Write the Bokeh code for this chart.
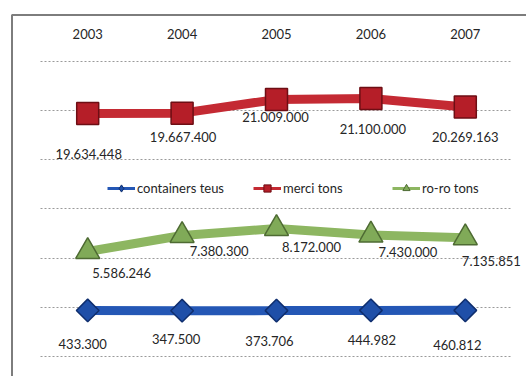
import math
from bokeh.plotting import figure
from bokeh.models import (Range1d, Grid, FixedTicker, Legend, LegendItem)
from bokeh.core.properties import value
from bokeh.embed import file_html
from bokeh.resources import INLINE

# ---- data ----
years = [2003, 2004, 2005, 2006, 2007]
year_labels = ["2003", "2004", "2005", "2006", "2007"]
containers_teus = [433300, 347500, 373706, 444982, 460812]
merci_tons = [19634448, 19667400, 21009000, 21100000, 20269163]
roro_tons = [5586246, 7380300, 8172000, 7430000, 7135851]


def fmt(v):
    return f"{v:,}".replace(",", ".")


# ---- layout constants (pixels) ----
W, H = 526, 376
FL, FT = 10, 13            # frame left / top
X0_PX, X_STEP = 87.2, 94.4  # first category centre, spacing
GRID0_PX, GRID_STEP = 356.0, 49.17


def y_range_for(anchor_value, anchor_px, px_per_unit):
    return Range1d(anchor_value - (H - anchor_px) / px_per_unit,
                   anchor_value + (anchor_px - FT) / px_per_unit)


def main_y(px):
    return (GRID0_PX - px) / GRID_STEP


def main_x(px):
    return years[0] + (px - X0_PX) / X_STEP


x_start = main_x(FL)
x_end = main_x(W)

FONT = value("Lato")
TXT = "#262626"

p = figure(width=W, height=H,
           x_range=Range1d(x_start, x_end),
           y_range=Range1d(main_y(H), main_y(FT)),
           x_axis_location=None, y_axis_location=None,
           output_backend="svg", toolbar_location=None,
           min_border_left=FL, min_border_right=0,
           min_border_top=FT, min_border_bottom=0)
p.outline_line_color = None
p.outline_line_alpha = 0
p.background_fill_color = "white"
p.border_fill_color = "white"
# drop the default grids (their axes are not placed)
p.center = [r for r in p.center if not isinstance(r, Grid)]

# outer border of the chart box: only the left and top edges fall inside the page
p.quad(left=main_x(11.5), right=main_x(W + 20), top=main_y(14.5), bottom=main_y(H + 20),
       fill_color=None, line_color="#7d7d7d", line_width=2)

# dotted horizontal gridlines spanning the category area only
p.add_layout(Grid(dimension=1, ticker=FixedTicker(ticks=[0, 1, 2, 3, 4, 5, 6]),
                  cross_bounds=(years[0] - 0.5, years[-1] + 0.5),
                  grid_line_color="#9a9a9a", grid_line_dash="2 2", grid_line_width=1))

# separate value scales per series
p.extra_y_ranges = {
    "merci": y_range_for(merci_tons[0], 113, 10.23e-6),
    "roro": y_range_for(roro_tons[0], 251, 8.9e-6),
    "cont": y_range_for(412000, 310, 3e-6),
}

RED, RED_M, RED_E = "#C42A33", "#B51E28", "#6E0E14"
GRN, GRN_M, GRN_E = "#8DB661", "#80AA58", "#4E6B33"
BLU, BLU_M, BLU_E = "#2457B5", "#1F4FA8", "#0F2E6E"

# year labels along the top
p.text(x=years, y=[main_y(33)] * len(years), text=year_labels,
       text_align="center", text_baseline="middle",
       text_font=FONT, text_font_size="13px", text_color=TXT)

# merci
p.line(years, merci_tons, y_range_name="merci", line_width=9, color=RED)
p.scatter(years, merci_tons, y_range_name="merci", marker="square", size=22,
          fill_color=RED_M, line_color=RED_E, line_width=1.5)
# ro-ro
p.line(years, roro_tons, y_range_name="roro", line_width=9, color=GRN)
p.scatter(years, roro_tons, y_range_name="roro", marker="triangle", size=24,
          fill_color=GRN_M, line_color=GRN_E, line_width=1.5)
# containers
p.line(years, containers_teus, y_range_name="cont", line_width=9, color=BLU)
p.scatter(years, containers_teus, y_range_name="cont", marker="square", angle=math.pi / 4,
          size=16, fill_color=BLU_M, line_color=BLU_E, line_width=1.5)

# data labels (offsets in screen pixels)
merci_dx = [1, 1, -1, 2, 0]
merci_dy = [40, 24, 18, 30, 30]
roro_dx = [34, 37, 35, 37, 26]
roro_dy = [21, 15, 19, 17, 23]
cont_dx = [-5, -6, -7, 1, -8]
cont_dy = [34, 28, 30, 30, 35]

for vals, rn, dx, dy in [(merci_tons, "merci", merci_dx, merci_dy),
                         (roro_tons, "roro", roro_dx, roro_dy),
                         (containers_teus, "cont", cont_dx, cont_dy)]:
    p.text(x=years, y=vals, text=[fmt(v) for v in vals], y_range_name=rn,
           x_offset=dx, y_offset=dy, text_align="center", text_baseline="middle",
           text_font=FONT, text_font_size="13px", text_color=TXT)

# legend swatches (renderers with no visible points)
nan = float("nan")
lc = p.line(x=[years[0]], y=[nan], color=BLU, line_width=3)
mc = p.scatter(x=[years[0]], y=[nan], marker="diamond", size=13,
               fill_color=BLU_M, line_color=BLU_E)
lm = p.line(x=[years[0]], y=[nan], color=RED, line_width=3)
mm = p.scatter(x=[years[0]], y=[nan], marker="square", size=11, fill_color=RED_M, line_color=RED_E)
lr = p.line(x=[years[0]], y=[nan], color=GRN, line_width=3)
mr = p.scatter(x=[years[0]], y=[nan], marker="triangle", size=12, fill_color=GRN_M, line_color=GRN_E)

for label, rends, xloc in [("containers teus", [lc, mc], 107 - FL),
                           ("merci tons", [lm, mm], 253 - FL),
                           ("ro-ro tons", [lr, mr], 392 - FL)]:
    lg = Legend(items=[LegendItem(label=label, renderers=rends)], location=(xloc, H - 197),
                orientation="horizontal", padding=0, margin=0, border_line_color=None,
                background_fill_alpha=0, glyph_width=28, glyph_height=18, label_standoff=2,
                label_text_font="Lato", label_text_font_size="13px",
                label_text_color=TXT)
    p.add_layout(lg, "center")

open("out.html", "w").write(file_html(p, INLINE))
